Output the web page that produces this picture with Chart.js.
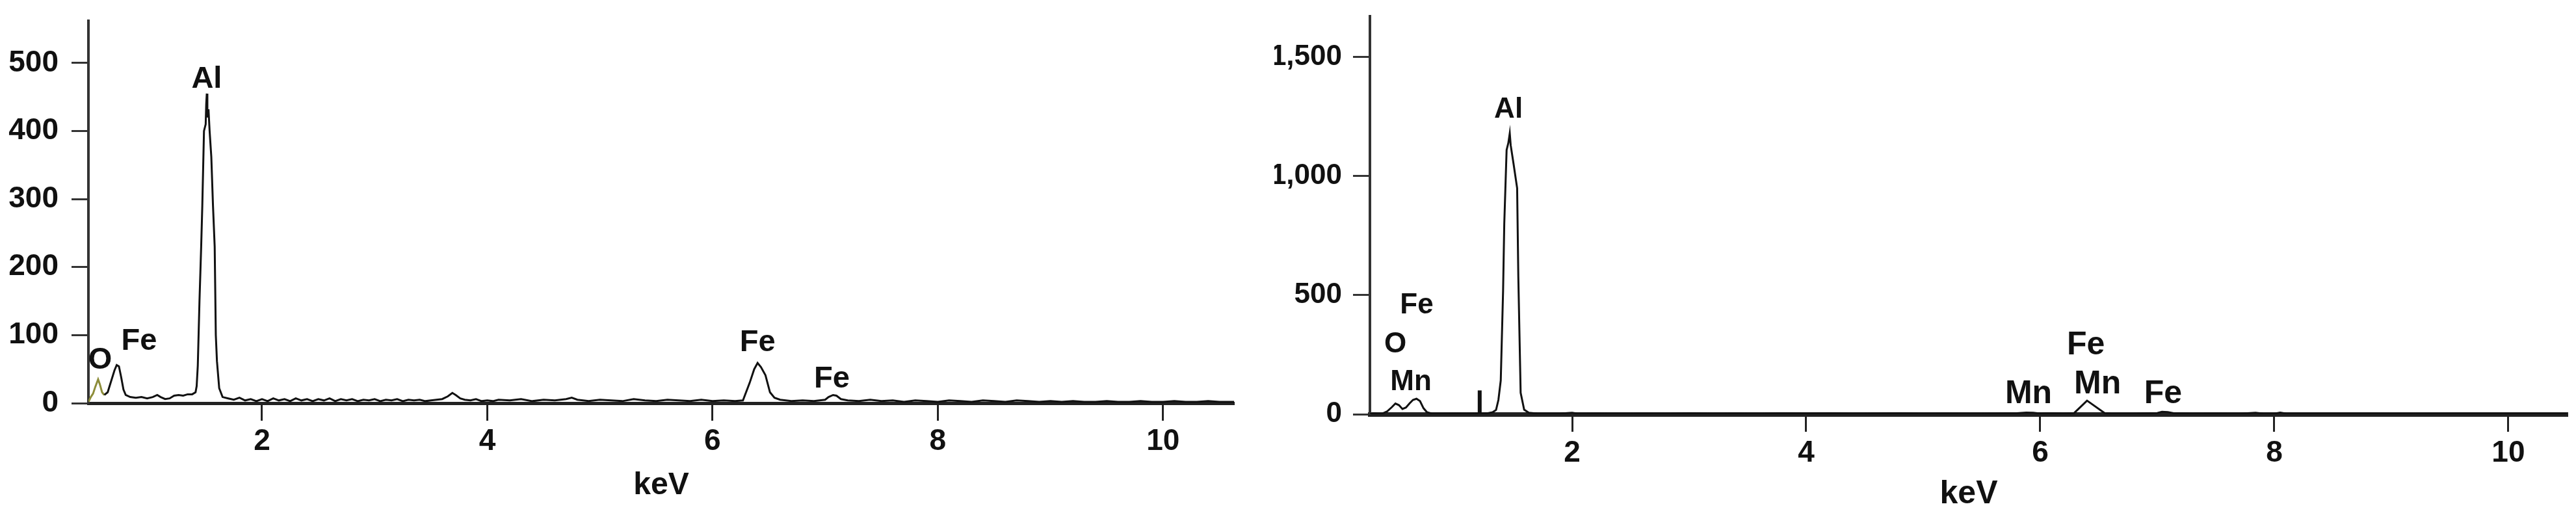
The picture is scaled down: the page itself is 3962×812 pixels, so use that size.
<!DOCTYPE html>
<html>
<head>
<meta charset="utf-8">
<script src="https://cdn.jsdelivr.net/npm/chart.js@4.4.1/dist/chart.umd.min.js"></script>
<style>
html, body { margin: 0; padding: 0; background: #fff; }
body { width: 3962px; height: 812px; position: relative; overflow: hidden; }
#wrapLeft { position: absolute; left: 0; top: 0; width: 1960px; height: 812px; }
#wrapRight { position: absolute; left: 1960px; top: 0; width: 2002px; height: 812px; }
</style>
</head>
<body>
<div id="wrapLeft"><canvas id="leftChart"></canvas></div>
<div id="wrapRight"><canvas id="rightChart"></canvas></div>
<script>
// left spectrum (keV, counts)
const leftKeV = [0.46,0.48,0.50,0.52,0.545,0.56,0.58,0.60,0.63,0.66,0.69,0.71,0.73,0.75,0.77,0.79,0.83,0.88,0.93,0.98,
  1.03,1.07,1.10,1.14,1.18,1.22,1.26,1.30,1.34,1.38,1.41,1.42,1.43,1.445,1.46,1.47,1.485,1.50,1.505,1.51,1.515,1.525,1.535,
  1.55,1.565,1.58,1.59,1.60,1.62,1.65,1.70,1.75,1.80,1.85,1.90,1.95,2.00,2.05,2.10,2.15,2.20,2.25,2.30,2.35,2.40,2.45,
  2.50,2.55,2.60,2.65,2.70,2.75,2.80,2.85,2.90,2.95,3.00,3.05,3.10,3.15,3.20,3.25,3.30,3.35,3.40,3.45,3.50,3.55,3.60,
  3.65,3.69,3.72,3.76,3.80,3.85,3.90,3.95,4.00,4.05,4.10,4.20,4.30,4.40,4.50,4.60,4.70,4.75,4.80,4.90,5.00,5.10,5.20,
  5.30,5.40,5.50,5.60,5.70,5.80,5.90,6.00,6.10,6.20,6.27,6.33,6.37,6.40,6.43,6.47,6.51,6.55,6.60,6.70,6.80,6.90,7.00,
  7.03,7.07,7.10,7.14,7.20,7.30,7.40,7.50,7.60,7.70,7.80,7.90,8.00,8.10,8.20,8.30,8.40,8.50,8.60,8.70,8.80,8.90,9.00,
  9.10,9.20,9.30,9.40,9.50,9.60,9.70,9.80,9.90,10.00,10.10,10.20,10.30,10.40,10.50,10.63];
const leftCounts = [2,9,14,24,35,28,16,12,16,32,48,56,54,38,20,12,9,8,9,7,
  9,12,9,6,7,11,12,11,13,13,16,25,55,150,230,290,400,410,440,455,420,432,400,
  362,290,230,100,62,22,9,7,5,8,4,6,3,6,3,7,4,6,3,7,4,6,3,
  6,4,7,3,6,4,6,3,5,4,6,3,5,4,6,3,5,4,5,3,4,5,6,
  10,15,12,7,5,4,6,3,4,3,5,4,6,3,5,4,6,8,5,3,5,4,3,
  6,4,3,5,4,3,5,3,4,3,4,30,50,59,53,41,16,8,5,3,4,3,5,
  9,12,11,6,4,3,5,3,4,2,4,3,2,4,3,2,4,3,2,4,3,2,3,
  2,3,2,2,3,2,2,3,2,2,3,2,2,3,2,2];

// right spectrum (keV, counts)
const rightKeV = [0.27,0.30,0.34,0.38,0.42,0.46,0.49,0.52,0.55,0.58,0.61,0.64,0.67,0.70,0.73,0.76,0.80,0.90,1.00,1.10,
  1.20,1.28,1.32,1.35,1.37,1.39,1.41,1.42,1.44,1.455,1.467,1.475,1.50,1.53,1.54,1.56,1.59,1.63,1.70,1.80,1.90,2.00,
  2.05,2.20,2.40,2.60,2.80,3.00,3.20,3.40,3.60,3.80,4.00,4.20,4.40,4.60,4.80,5.00,5.20,5.40,5.60,5.80,5.88,5.94,
  6.00,6.10,6.20,6.29,6.40,6.55,6.60,6.80,7.00,7.04,7.09,7.14,7.30,7.50,7.70,7.84,7.90,8.00,8.05,8.10,8.40,8.80,
  9.20,9.60,10.00,10.50];
const rightCounts = [0,4,2,3,12,30,45,38,22,28,45,60,65,55,25,8,3,2,3,2,
  3,4,8,18,60,142,520,800,1110,1140,1180,1130,1050,950,580,90,19,6,3,2,3,6,
  2,3,2,3,2,4,2,3,2,4,3,4,2,3,4,2,3,2,3,4,7,6,
  3,4,3,5,57,5,3,2,5,10,9,4,2,3,2,6,3,2,7,3,2,2,
  1,2,2,2];
const rightMarkerKeV = [1.21, 1.21];
const rightMarkerCounts = [0, 100];

// axis ticks
const leftXTicks = [2, 4, 6, 8, 10];
const leftYTicks = [0, 100, 200, 300, 400, 500];
const rightXTicks = [2, 4, 6, 8, 10];
const rightYTicks = [0, 500, 1000, 1500];

// peak labels (anchored at keV, counts)
const leftLabelText = ['O', 'Fe', 'Al', 'Fe', 'Fe'];
const leftLabelKeV = [0.563, 0.909, 1.509, 6.40, 7.06];
const leftLabelCounts = [51, 78, 464, 76, 23];
const rightLabelText = ['Fe', 'O', 'Mn', 'Al', 'Mn', 'Fe', 'Mn', 'Fe'];
const rightLabelKeV = [0.672, 0.489, 0.622, 1.456, 5.90, 6.39, 6.49, 7.05];
const rightLabelCounts = [423, 260, 101, 1246, 46, 251, 87, 46];

const NARROW = "'Liberation Sans Narrow', 'Arial Narrow', 'Liberation Sans', Arial, sans-serif";
const REG = "'Liberation Sans', Arial, sans-serif";

const toPoints = (xs, ys) => xs.map((x, i) => ({ x: x, y: ys[i] }));

const peakLabels = {
  id: 'peakLabels',
  afterDatasetsDraw(chart, args, opts) {
    const { ctx, scales: { x, y } } = chart;
    ctx.save();
    ctx.fillStyle = '#111';
    ctx.textAlign = 'center';
    ctx.textBaseline = 'alphabetic';
    opts.text.forEach((t, i) => {
      ctx.font = opts.fonts[i];
      ctx.fillText(t, x.getPixelForValue(opts.kev[i]), y.getPixelForValue(opts.counts[i]));
    });
    ctx.restore();
  }
};

function axisX(min, max, ticks, height, tickPad, titleSize, titleBottom, borderW) {
  return {
    type: 'linear', min: min, max: max,
    afterBuildTicks: s => { s.ticks = ticks.map(v => ({ value: v })); },
    afterFit: s => { s.height = height; s.paddingLeft = 0; s.paddingRight = 0; },
    grid: { display: true, drawOnChartArea: false, drawTicks: true, tickLength: 27, tickWidth: 3, tickColor: '#222' },
    border: { display: true, width: borderW, color: '#222' },
    ticks: { color: '#111', padding: tickPad, maxRotation: 0, font: { family: NARROW, size: 46, weight: 'bold' } },
    title: { display: true, text: 'keV', color: '#111', font: { family: NARROW, size: titleSize, weight: 'bold' },
      padding: { top: 0, bottom: titleBottom } }
  };
}

function axisY(max, ticks, width, tickPad, font, fmt) {
  return {
    type: 'linear', min: 0, max: max,
    afterBuildTicks: s => { s.ticks = ticks.map(v => ({ value: v })); },
    afterFit: s => { s.width = width; s.paddingTop = 0; s.paddingBottom = 0; },
    grid: { display: true, drawOnChartArea: false, drawTicks: true, tickLength: 26, tickWidth: 3, tickColor: '#333' },
    border: { display: true, width: 4, color: '#333' },
    ticks: { color: '#111', padding: tickPad, font: font, callback: fmt }
  };
}

new Chart(document.getElementById('leftChart'), {
  type: 'line',
  data: {
    datasets: [{
      data: toPoints(leftKeV, leftCounts),
      borderColor: '#111',
      borderWidth: 3,
      pointRadius: 0,
      tension: 0,
      segment: { borderColor: c => c.p1.parsed.x <= 0.6 ? '#8d8d3a' : '#111' }
    }]
  },
  options: {
    responsive: true,
    maintainAspectRatio: false,
    animation: false,
    layout: { padding: { left: 0, right: 62, top: 32, bottom: 0 } },
    plugins: {
      legend: { display: false },
      tooltip: { enabled: false },
      peakLabels: {
        text: leftLabelText, kev: leftLabelKeV, counts: leftLabelCounts,
        fonts: leftLabelText.map(() => 'bold 47px ' + REG)
      }
    },
    scales: {
      x: axisX(0.459, 10.63, leftXTicks, 192, 5, 48, 36, 5),
      y: axisY(562, leftYTicks, 136, 20, { family: NARROW, size: 46, weight: 'bold' }, v => v)
    }
  },
  plugins: [peakLabels]
});

new Chart(document.getElementById('rightChart'), {
  type: 'line',
  data: {
    datasets: [{
      data: toPoints(rightKeV, rightCounts),
      borderColor: '#111',
      borderWidth: 3,
      pointRadius: 0,
      tension: 0
    }, {
      data: toPoints(rightMarkerKeV, rightMarkerCounts),
      borderColor: '#111',
      borderWidth: 6,
      pointRadius: 0
    }]
  },
  options: {
    responsive: true,
    maintainAspectRatio: false,
    animation: false,
    layout: { padding: { left: 0, right: 13, top: 25, bottom: 0 } },
    plugins: {
      legend: { display: false },
      tooltip: { enabled: false },
      peakLabels: {
        text: rightLabelText, kev: rightLabelKeV, counts: rightLabelCounts,
        fonts: rightLabelText.map((t, i) => i < 4 ? 'bold 44px ' + REG : 'bold 50px ' + NARROW)
      }
    },
    scales: {
      x: axisX(0.272, 10.506, rightXTicks, 175, 6, 50, 22, 7),
      y: axisY(1672, rightYTicks, 147, 17, { family: REG, size: 44, weight: 'bold' },
        v => v.toLocaleString('en-US'))
    }
  },
  plugins: [peakLabels]
});
</script>
</body>
</html>
